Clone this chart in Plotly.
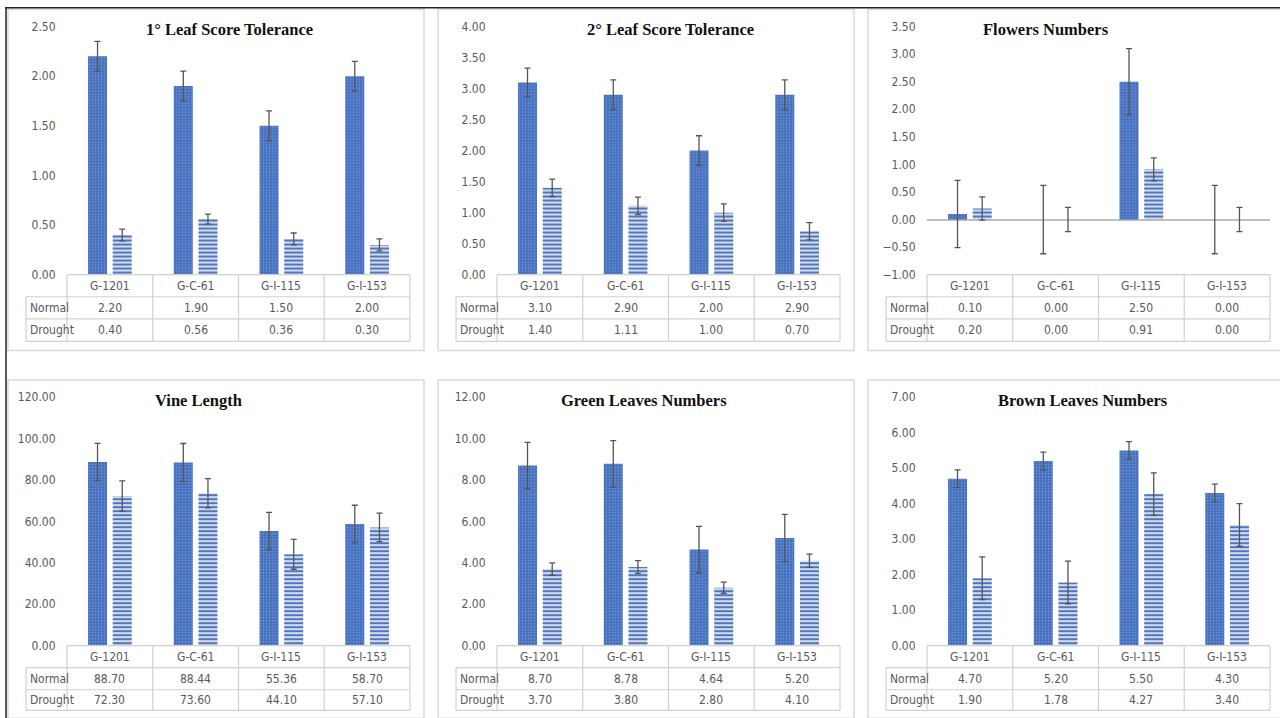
import plotly.graph_objects as go

# ---------------- data ----------------
categories = ["G-1201", "G-C-61", "G-I-115", "G-I-153"]
row_labels = ["Normal", "Drought"]
titles = ["1° Leaf Score Tolerance", "2° Leaf Score Tolerance", "Flowers Numbers",
          "Vine Length", "Green Leaves Numbers", "Brown Leaves Numbers"]

leaf1_normal = [2.20, 1.90, 1.50, 2.00]
leaf1_drought = [0.40, 0.56, 0.36, 0.30]
leaf1_normal_err = [0.15, 0.15, 0.15, 0.15]
leaf1_drought_err = [0.06, 0.05, 0.06, 0.06]

leaf2_normal = [3.10, 2.90, 2.00, 2.90]
leaf2_drought = [1.40, 1.11, 1.00, 0.70]
leaf2_normal_err = [0.23, 0.24, 0.24, 0.24]
leaf2_drought_err = [0.14, 0.14, 0.14, 0.14]

flowers_normal = [0.10, 0.00, 2.50, 0.00]
flowers_drought = [0.20, 0.00, 0.91, 0.00]
flowers_normal_err = [0.61, 0.62, 0.60, 0.62]
flowers_drought_err = [0.21, 0.22, 0.21, 0.22]

vine_normal = [88.70, 88.44, 55.36, 58.70]
vine_drought = [72.30, 73.60, 44.10, 57.10]
vine_normal_err = [9.0, 9.2, 9.0, 9.1]
vine_drought_err = [7.3, 7.1, 7.2, 6.9]

green_normal = [8.70, 8.78, 4.64, 5.20]
green_drought = [3.70, 3.80, 2.80, 4.10]
green_normal_err = [1.12, 1.12, 1.12, 1.14]
green_drought_err = [0.30, 0.31, 0.27, 0.32]

brown_normal = [4.70, 5.20, 5.50, 4.30]
brown_drought = [1.90, 1.78, 4.27, 3.40]
brown_normal_err = [0.25, 0.25, 0.25, 0.25]
brown_drought_err = [0.60, 0.60, 0.60, 0.60]

y_ranges = [[0, 2.5], [0, 4.0], [-1.0, 3.5], [0, 120], [0, 12], [0, 7]]
y_dticks = [0.5, 0.5, 0.5, 20, 2, 1]

panels = [
    (leaf1_normal, leaf1_drought, leaf1_normal_err, leaf1_drought_err),
    (leaf2_normal, leaf2_drought, leaf2_normal_err, leaf2_drought_err),
    (flowers_normal, flowers_drought, flowers_normal_err, flowers_drought_err),
    (vine_normal, vine_drought, vine_normal_err, vine_drought_err),
    (green_normal, green_drought, green_normal_err, green_drought_err),
    (brown_normal, brown_drought, brown_normal_err, brown_drought_err),
]

# ---------------- layout helpers ----------------
W, H = 1280, 718
# vertical mapping of the capture (observed): shown_y = CAP_A + CAP_B * page_y
CAP_A, CAP_B = 7.5, 0.978


def px(x):
    return x / W


def py(y):
    page_y = (y - CAP_A) / CAP_B
    return 1 - page_y / H


GREY_TXT = "#595959"
GRID = "#D0D0D0"
BOX = "#D9D9D9"
NARROW = "Liberation Sans Narrow, Arial Narrow, DejaVu Sans Condensed, sans-serif"
SERIF = "Liberation Serif, Times New Roman, serif"

fig = go.Figure()
shapes = []
annotations = []
layout_axes = {}

for i, (normal, drought, nerr, derr) in enumerate(panels):
    c, r = i % 3, i // 3
    ox = 430 * c
    if r == 0:
        top, bottom = 27.0, 274.5
        rows_y = [274.5, 296.5, 318.5, 341.0]
        box_y = (10, 350)
        title_y = 30
    else:
        top, bottom = 396.7, 644.5
        rows_y = [644.5, 666.5, 688.5, 709.0]
        box_y = (379.5, 717)
        title_y = 400
    xl, xr = 67 + ox, 410 + ox
    lab_l = 26 + ox
    n = i + 1
    xn = "x" if n == 1 else f"x{n}"
    yn = "y" if n == 1 else f"y{n}"
    xkey = "xaxis" if n == 1 else f"xaxis{n}"
    ykey = "yaxis" if n == 1 else f"yaxis{n}"

    fig.add_trace(go.Bar(
        x=categories, y=normal, xaxis=xn, yaxis=yn, name="Normal",
        marker=dict(color="#4470C0", line=dict(width=0),
                    pattern=dict(shape=".", fgcolor="#7A98D4", bgcolor="#4470C0",
                                 size=3, solidity=0.25, fillmode="replace")),
        error_y=dict(type="data", array=nerr, visible=True, color="#555555",
                     thickness=1.3, width=3),
        showlegend=False, hoverinfo="skip"))
    fig.add_trace(go.Bar(
        x=categories, y=drought, xaxis=xn, yaxis=yn, name="Drought",
        marker=dict(color="#6F8FCB", line=dict(width=0),
                    pattern=dict(shape="-", fgcolor="#5276BC", bgcolor="#D3DEF0",
                                 size=4, solidity=0.5, fillmode="replace")),
        error_y=dict(type="data", array=derr, visible=True, color="#555555",
                     thickness=1.3, width=3),
        showlegend=False, hoverinfo="skip"))

    layout_axes[xkey] = dict(domain=[px(xl), px(xr)], anchor=yn, type="category",
                             categoryorder="array", categoryarray=categories,
                             range=[-0.5, 3.5], showticklabels=False, showgrid=False,
                             showline=False, zeroline=False, ticks="", fixedrange=True)
    layout_axes[ykey] = dict(domain=[max(0, py(bottom)), min(1, py(top))], anchor=xn,
                             range=y_ranges[i], tick0=y_ranges[i][0], dtick=y_dticks[i],
                             tickformat=".2f", showgrid=False, showline=False,
                             zeroline=(y_ranges[i][0] < 0), zerolinecolor="#BFBFBF",
                             zerolinewidth=1.5,
                             ticks="outside", ticklen=8, tickcolor="rgba(0,0,0,0)",
                             tickfont=dict(family=NARROW, size=12, color=GREY_TXT),
                             fixedrange=True)

    shapes.append(dict(type="rect", xref="paper", yref="paper",
                       x0=px(8 + ox), x1=px(424 + ox if c < 2 else 1290),
                       y0=py(box_y[1]), y1=py(box_y[0]),
                       line=dict(color=BOX, width=1.5), fillcolor="rgba(0,0,0,0)",
                       layer="below"))

    title_cx = [229, 670, 1046, 198, 644, 1083][i]
    annotations.append(dict(text=f"<b>{titles[i]}</b>", xref="paper", yref="paper",
                            x=px(title_cx), y=py(title_y), xanchor="center",
                            yanchor="middle", showarrow=False,
                            font=dict(family=SERIF, size=16.5, color="#111111")))

    col_w = (xr - xl) / len(categories)
    col_x = [xl + k * col_w for k in range(len(categories) + 1)]
    shapes.append(dict(type="line", xref="paper", yref="paper", x0=px(xl), x1=px(xr),
                       y0=py(rows_y[0]), y1=py(rows_y[0]), line=dict(color=GRID, width=1.2)))
    for yy in rows_y[1:]:
        shapes.append(dict(type="line", xref="paper", yref="paper", x0=px(lab_l), x1=px(xr),
                           y0=py(yy), y1=py(yy), line=dict(color=GRID, width=1.2)))
    shapes.append(dict(type="line", xref="paper", yref="paper", x0=px(lab_l), x1=px(lab_l),
                       y0=py(rows_y[1]), y1=py(rows_y[3]), line=dict(color=GRID, width=1.2)))
    for xx in col_x:
        shapes.append(dict(type="line", xref="paper", yref="paper", x0=px(xx), x1=px(xx),
                           y0=py(rows_y[0]), y1=py(rows_y[3]), line=dict(color=GRID, width=1.2)))

    for k, cat in enumerate(categories):
        cx = (col_x[k] + col_x[k + 1]) / 2
        annotations.append(dict(text=cat, xref="paper", yref="paper", x=px(cx),
                                y=py((rows_y[0] + rows_y[1]) / 2), xanchor="center",
                                yanchor="middle", showarrow=False,
                                font=dict(family=NARROW, size=12, color=GREY_TXT)))
    for rr, (lab, vals) in enumerate(zip(row_labels, [normal, drought])):
        ymid = (rows_y[rr + 1] + rows_y[rr + 2]) / 2
        annotations.append(dict(text=lab, xref="paper", yref="paper", x=px(lab_l + 2),
                                y=py(ymid), xanchor="left", yanchor="middle",
                                showarrow=False,
                                font=dict(family=NARROW, size=12, color=GREY_TXT)))
        for k, v in enumerate(vals):
            cx = (col_x[k] + col_x[k + 1]) / 2
            annotations.append(dict(text=f"{v:.2f}", xref="paper", yref="paper", x=px(cx),
                                    y=py(ymid), xanchor="center", yanchor="middle",
                                    showarrow=False,
                                    font=dict(family=NARROW, size=12, color=GREY_TXT)))

shapes.append(dict(type="line", xref="paper", yref="paper", x0=px(5), x1=px(1285),
                   y0=py(8.3), y1=py(8.3), line=dict(color="#222222", width=1.5)))
shapes.append(dict(type="line", xref="paper", yref="paper", x0=px(6), x1=px(6),
                   y0=py(8.3), y1=py(740), line=dict(color="#222222", width=1.5)))

fig.update_layout(
    width=W, height=H, margin=dict(l=0, r=0, t=0, b=0),
    paper_bgcolor="white", plot_bgcolor="rgba(0,0,0,0)",
    barmode="group", bargap=0.424, bargroupgap=0.23,
    shapes=shapes, annotations=annotations, showlegend=False,
    **layout_axes,
)

css = "html,body{margin:0!important;padding:0!important;overflow:hidden!important;}"
fig.write_html(
    "out.html", config={"displayModeBar": False},
    post_script=("var s=document.createElement('style');s.innerHTML='" + css + "';"
                 "document.head.appendChild(s);"),
)
